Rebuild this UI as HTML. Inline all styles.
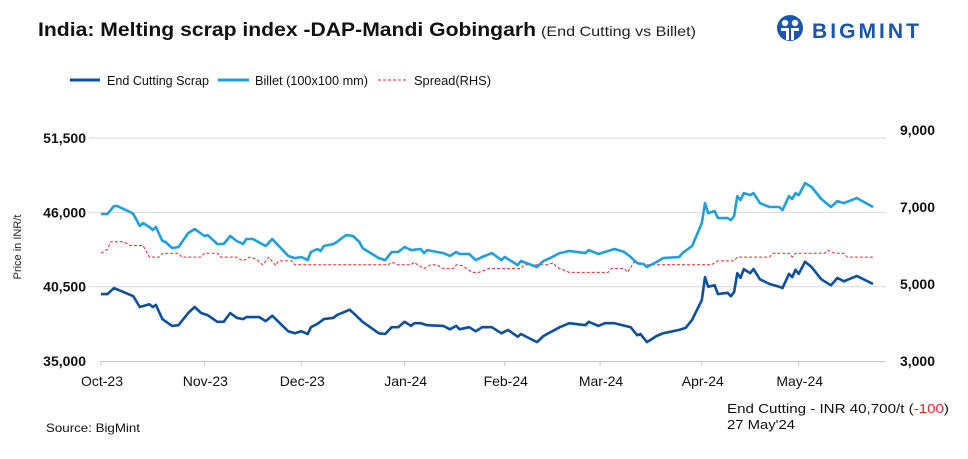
<!DOCTYPE html>
<html><head><meta charset="utf-8">
<style>
html,body{margin:0;padding:0;background:#fff;}
svg{display:block;font-family:"Liberation Sans",Arial,sans-serif;}
</style></head>
<body>
<svg id="chart" width="968" height="459" viewBox="0 0 968 459" xmlns="http://www.w3.org/2000/svg">
  <text x="38" y="36" font-size="19" font-weight="bold" fill="#111" textLength="498" lengthAdjust="spacingAndGlyphs">India: Melting scrap index -DAP-Mandi Gobingarh</text>
  <text x="541" y="36" font-size="14" fill="#222" textLength="155" lengthAdjust="spacingAndGlyphs">(End Cutting vs Billet)</text>
  <g>
    <circle cx="790" cy="28" r="13" fill="#1a56b0"/>
    <circle cx="785" cy="23" r="3.2" fill="#fff"/>
    <circle cx="795" cy="23" r="3.2" fill="#fff"/>
    <path d="M781 28 h8 v12 h-3 v-9 h-5z M791 28 h8 v3 h-5 v9 h-3z" fill="#fff"/>
    <text x="812" y="38" font-size="21" font-weight="bold" fill="#1a56b0" letter-spacing="3" textLength="110" lengthAdjust="spacingAndGlyphs">BIGMINT</text>
  </g>
  <g>
    <line x1="70" y1="80" x2="100" y2="80" stroke="#0d4f9e" stroke-width="3"/>
    <text x="107" y="85" font-size="13" fill="#111" textLength="102" lengthAdjust="spacingAndGlyphs">End Cutting Scrap</text>
    <line x1="218" y1="80" x2="249" y2="80" stroke="#1fa0dc" stroke-width="3"/>
    <text x="255" y="85" font-size="13" fill="#111" textLength="113" lengthAdjust="spacingAndGlyphs">Billet (100x100 mm)</text>
    <line x1="378" y1="80" x2="406" y2="80" stroke="#e8262a" stroke-width="1" stroke-dasharray="3,2"/>
    <text x="414" y="85" font-size="13" fill="#111" textLength="77" lengthAdjust="spacingAndGlyphs">Spread(RHS)</text>
  </g>
  <text transform="translate(21,247) rotate(-90)" text-anchor="middle" font-size="11" fill="#222">Price in INR/t</text>
  <g id="grid"></g>
  <g id="axes"></g>
  <g id="series"></g>
  <text x="46" y="432" font-size="12" fill="#111" textLength="94" lengthAdjust="spacingAndGlyphs">Source: BigMint</text>
  <text x="727" y="413" font-size="13" fill="#111" textLength="222" lengthAdjust="spacingAndGlyphs">End Cutting - INR 40,700/t (<tspan fill="#e8262a">-100</tspan>)</text>
  <text x="727" y="429" font-size="13" fill="#111" textLength="68" lengthAdjust="spacingAndGlyphs">27 May'24</text>
</svg>
<script>
// days since 1 Oct 2023
const endCuttingDays=[0,2,4,7,10,12,15,16,17,19,22,24,27,29,31,33,36,38,40,42,44,45,49,51,53,58,60,62,64,65,67,69,72,73,75,77,79,81,86,88,90,92,94,96,97,99,101,106,108,110,111,114,116,118,121,124,126,129,130,135,137,142,145,150,151,154,156,159,164,166,167,169,172,174,179,181,183,186,187,188,190,191,194,195,196,197,198,199,201,202,204,207,210,211,213,214,215,216,218,220,223,226,228,230,234,239];
const endCuttingValues=[39950,39950,40400,40100,39800,39000,39200,39000,39150,38100,37600,37650,38550,39000,38550,38400,37900,37900,38550,38200,38100,38250,38250,37950,38350,37200,37050,37200,37000,37500,37750,38100,38200,38400,38600,38800,38350,37900,37050,37000,37500,37500,37900,37600,37800,37800,37650,37600,37350,37600,37350,37500,37200,37500,37500,37050,37300,36800,37000,36400,36850,37500,37800,37650,37900,37600,37800,37800,37500,36900,37000,36400,36850,37050,37300,37450,38050,39500,41200,40500,40600,39950,40050,39800,40100,41500,41150,41800,41500,41800,41050,40700,40500,40400,41450,41200,41750,41450,42350,41950,41050,40600,41150,40900,41300,40700];
const billetDays=[0,2,4,5,7,9,10,12,13,15,16,17,19,20,22,24,27,29,32,33,36,38,40,42,44,45,47,51,53,58,60,62,64,65,67,68,69,72,73,75,76,78,80,81,86,88,90,92,94,96,99,100,101,106,108,110,111,114,116,118,121,124,125,129,130,135,137,139,142,145,150,151,154,156,159,162,164,166,168,169,172,174,179,180,183,186,187,188,190,191,194,195,196,197,198,199,201,202,204,207,210,211,213,214,215,216,218,220,223,226,228,230,234,239];
const billetValues=[45880,45880,46470,46470,46250,46030,45880,44990,45210,44920,44690,44920,43880,43810,43360,43440,44470,44770,44250,44320,43660,43660,44250,43880,43660,44030,44030,43510,44030,42770,42620,42700,42470,43070,43290,43140,43510,43660,43810,44180,44320,44250,43810,43360,42620,42470,43070,43070,43440,43210,43290,42990,43210,42990,42770,43070,42920,42920,42470,42700,42990,42470,42700,42100,42400,41960,42400,42620,42990,43140,42990,43210,42920,43070,43290,43070,42700,42250,42180,41960,42330,42620,42700,42990,43510,45210,46690,45950,46100,45580,45580,45430,45730,47210,46910,47430,47280,47430,46690,46400,46400,46170,47210,46990,47430,47280,48170,47880,46990,46400,46840,46690,47060,46400];
const spreadDays=[0,2,3,7,9,13,15,18,19,24,25,31,32,36,37,42,44,46,48,50,52,54,55,59,60,89,90,92,96,97,98,100,102,104,106,109,110,112,115,117,120,130,131,138,140,141,145,157,158,162,163,165,167,189,191,196,197,207,208,213,214,215,224,225,227,230,231,239];
const spreadValues=[5800,5900,6100,6100,6000,6000,5700,5700,5800,5800,5700,5700,5800,5800,5700,5700,5600,5700,5650,5500,5700,5480,5600,5600,5500,5500,5570,5500,5500,5570,5500,5400,5500,5500,5400,5400,5500,5470,5300,5300,5400,5400,5500,5500,5550,5440,5300,5300,5400,5400,5300,5570,5500,5500,5600,5600,5700,5700,5800,5800,5700,5800,5800,5880,5800,5800,5700,5700];
const leftTicks=[35000,40500,46000,51500];
const leftTickLabels=["35,000","40,500","46,000","51,500"];
const rightTicks=[3000,5000,7000,9000];
const rightTickLabels=["3,000","5,000","7,000","9,000"];
const monthTickDays=[0,32,62,94,125,154.5,186,216];
const monthLabels=["Oct-23","Nov-23","Dec-23","Jan-24","Feb-24","Mar-24","Apr-24","May-24"];

const NS="http://www.w3.org/2000/svg";
const X0=101, PXD=3.23, AXEND=886;
function x(d){return X0+d*PXD;}
function yL(v){return 361-(v-35000)*74.3/5500;}
function yR(v){return 361-(v-3000)*77/2000;}
function mk(tag,attrs,parent){const e=document.createElementNS(NS,tag);for(const k in attrs)e.setAttribute(k,attrs[k]);parent.appendChild(e);return e;}
const grid=document.getElementById('grid'),axes=document.getElementById('axes'),ser=document.getElementById('series');

leftTicks.forEach((v,i)=>{
  if(i>0){const g=mk('line',{x1:89,x2:AXEND,y1:yL(v),y2:yL(v),stroke:'#d9d9d9','stroke-width':1},grid);
    
    }
  const t=mk('text',{x:86,y:yL(v)+5,'text-anchor':'end','font-size':14,'font-weight':'bold',fill:'#111'},axes);
  t.textContent=leftTickLabels[i];
  
  
});
rightTicks.forEach((v,i)=>{
  const t=mk('text',{x:935,y:yR(v)+5,'text-anchor':'end','font-size':14,'font-weight':'bold',fill:'#111'},axes);
  t.textContent=rightTickLabels[i];
  
  
});
const ax=mk('line',{x1:X0,x2:AXEND,y1:361.5,y2:361.5,stroke:'#c8c8c8','stroke-width':1},axes);


monthTickDays.forEach((d,i)=>{
  const tk=mk('line',{x1:x(d),x2:x(d),y1:361,y2:366,stroke:'#c8c8c8'},axes);
  
  
  const t=mk('text',{x:x(d)+1,y:386,'text-anchor':'middle','font-size':14,fill:'#111'},axes);
  t.textContent=monthLabels[i];
  
  
});
function line(days,vals,yf,attrs,name){
  const d=days.map((dd,i)=>(i?'L':'M')+x(dd).toFixed(1)+' '+yf(vals[i]).toFixed(1)).join(' ');
  const p=mk('path',Object.assign({d:d,fill:'none','stroke-linejoin':'round'},attrs),ser);
  
  
}
line(spreadDays,spreadValues,yR,{stroke:'#e8262a','stroke-width':1,'stroke-dasharray':'3,2'},'spread-line');
line(billetDays,billetValues,yL,{stroke:'#1fa0dc','stroke-width':2.6},'billet-line');
line(endCuttingDays,endCuttingValues,yL,{stroke:'#0d4f9e','stroke-width':2.6},'end-cutting-line');
</script>
</body></html>
